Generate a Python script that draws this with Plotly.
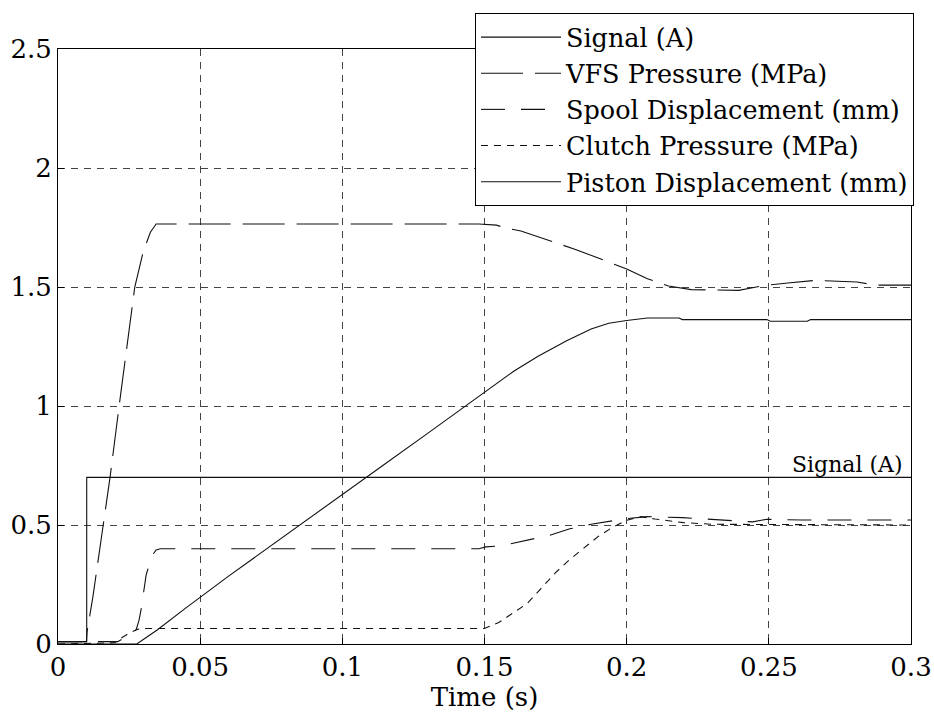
import plotly.graph_objects as go

# ---- data ----
signal_t = [0, 0.0101, 0.0101, 0.3]
signal_v = [0.01, 0.01, 0.70, 0.70]

vfs_t = [0, 0.0100, 0.0102, 0.0123, 0.0159, 0.0183, 0.0215, 0.0246, 0.0270, 0.0300, 0.0325, 0.0345,
         0.148, 0.1542, 0.1573, 0.1628, 0.177, 0.182, 0.1956, 0.200, 0.2073, 0.2147, 0.2227, 0.2394,
         0.2456, 0.2493, 0.2567, 0.2665, 0.281, 0.2875, 0.300]
vfs_v = [0.01, 0.01, 0.05, 0.20, 0.50, 0.70, 1.00, 1.28, 1.50, 1.65, 1.73, 1.765,
         1.765, 1.76, 1.748, 1.735, 1.68, 1.658, 1.596, 1.576, 1.535, 1.504, 1.489, 1.486,
         1.500, 1.508, 1.517, 1.528, 1.521, 1.508, 1.508]

spool_t = [0, 0.0105, 0.021, 0.024, 0.0275, 0.0285, 0.0292, 0.031, 0.033, 0.0345, 0.036, 0.148,
           0.1505, 0.156, 0.1665, 0.1727, 0.180, 0.1875, 0.200, 0.2073, 0.2196, 0.2294, 0.2443,
           0.2493, 0.2616, 0.300]
spool_v = [0.01, 0.01, 0.01, 0.03, 0.06, 0.10, 0.143, 0.29, 0.37, 0.395, 0.40, 0.40,
           0.408, 0.413, 0.442, 0.456, 0.484, 0.503, 0.527, 0.535, 0.531, 0.524, 0.513,
           0.524, 0.521, 0.521]

clutch_t = [0, 0.020, 0.0215, 0.025, 0.028, 0.031, 0.150, 0.155, 0.160, 0.165, 0.170, 0.175,
            0.180, 0.185, 0.190, 0.195, 0.200, 0.205, 0.210, 0.220, 0.230, 0.300]
clutch_v = [0, 0.005, 0.02, 0.045, 0.062, 0.065, 0.065, 0.09, 0.13, 0.17, 0.235, 0.30,
            0.355, 0.405, 0.452, 0.49, 0.52, 0.535, 0.525, 0.51, 0.503, 0.50]

piston_t = [0, 0.0277, 0.035, 0.045, 0.060, 0.080, 0.100, 0.1135, 0.130, 0.1456, 0.1505, 0.1604,
            0.169, 0.1789, 0.1875, 0.1937, 0.200, 0.2073, 0.2184, 0.2196, 0.2493, 0.2505, 0.2635,
            0.2647, 0.300]
piston_v = [0, 0, 0.06, 0.152, 0.285, 0.458, 0.63, 0.744, 0.885, 1.02, 1.063, 1.147,
            1.21, 1.274, 1.324, 1.348, 1.359, 1.37, 1.37, 1.363, 1.363, 1.356, 1.356,
            1.363, 1.363]

x_ticks = [0, 0.05, 0.1, 0.15, 0.2, 0.25, 0.3]
x_labels = ["0", "0.05", "0.1", "0.15", "0.2", "0.25", "0.3"]
y_ticks = [0, 0.5, 1, 1.5, 2, 2.5]
y_labels = ["0", "0.5", "1", "1.5", "2", "2.5"]

FONT = "DejaVu Serif"
LC = "#111111"

fig = go.Figure()
fig.add_trace(go.Scatter(x=signal_t, y=signal_v, mode="lines", name="Signal (A)",
                         line=dict(color=LC, width=1.1)))
fig.add_trace(go.Scatter(x=vfs_t, y=vfs_v, mode="lines", name="VFS Pressure (MPa)",
                         line=dict(color=LC, width=1.1, dash="42px,12px")))
fig.add_trace(go.Scatter(x=spool_t, y=spool_v, mode="lines", name="Spool Displacement (mm)",
                         line=dict(color=LC, width=1.1, dash="24px,16px")))
fig.add_trace(go.Scatter(x=clutch_t, y=clutch_v, mode="lines", name="Clutch Pressure (MPa)",
                         line=dict(color=LC, width=1.1, dash="7px,6px")))
fig.add_trace(go.Scatter(x=piston_t, y=piston_v, mode="lines", name="Piston Displacement (mm)",
                         line=dict(color=LC, width=1.1)))

fig.add_annotation(x=0.298, y=0.70, text="Signal (A)", showarrow=False,
                   xanchor="right", yanchor="bottom", yshift=-2,
                   font=dict(family=FONT, size=22, color="black"))

axis_common = dict(showline=True, mirror=True, linecolor="black", linewidth=1,
                   ticks="inside", ticklen=6, tickcolor="black", automargin=False,
                   showgrid=True, gridcolor="#444444", gridwidth=1, griddash="7px,6px",
                   zeroline=False, tickfont=dict(family=FONT, size=26, color="black"))

fig.update_xaxes(range=[0, 0.3], tickvals=x_ticks, ticktext=x_labels,
                 title=dict(text="Time (s)", font=dict(family=FONT, size=26, color="black"), standoff=2),
                 **axis_common)
fig.update_yaxes(range=[0, 2.5], tickvals=y_ticks, ticktext=y_labels, **axis_common)

fig.update_layout(
    width=934, height=720,
    margin=dict(l=58, r=23, t=49, b=76, autoexpand=False),
    plot_bgcolor="white", paper_bgcolor="white",
    font=dict(family=FONT, color="black"),
    legend=dict(x=1.0035, y=1.0605, xanchor="right", yanchor="top",
                bgcolor="white", bordercolor="black", borderwidth=1,
                font=dict(family=FONT, size=25.5, color="black"),
                itemwidth=80, tracegroupgap=0),
    showlegend=True,
)

fig.write_html("out.html", config={"displayModeBar": False},
               post_script="document.body.style.margin='0px';document.body.style.overflow='hidden';")
